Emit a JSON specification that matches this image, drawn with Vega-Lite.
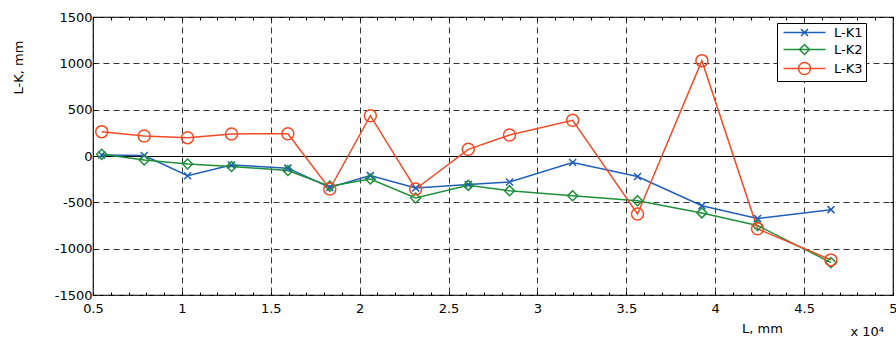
{
  "$schema": "https://vega.github.io/schema/vega-lite/v6.json",
  "width": 800,
  "height": 278,
  "autosize": "none",
  "padding": {"left": 93, "top": 17, "right": 3, "bottom": 44},
  "background": "white",
  "data": {
    "values": [
      {"L": 5490, "LK": 10, "series": "L-K1"},
      {"L": 7880, "LK": 5, "series": "L-K1"},
      {"L": 10320, "LK": -213, "series": "L-K1"},
      {"L": 12790, "LK": -97, "series": "L-K1"},
      {"L": 15960, "LK": -131, "series": "L-K1"},
      {"L": 18320, "LK": -340, "series": "L-K1"},
      {"L": 20600, "LK": -212, "series": "L-K1"},
      {"L": 23150, "LK": -345, "series": "L-K1"},
      {"L": 26110, "LK": -307, "series": "L-K1"},
      {"L": 28430, "LK": -281, "series": "L-K1"},
      {"L": 31980, "LK": -70, "series": "L-K1"},
      {"L": 35630, "LK": -221, "series": "L-K1"},
      {"L": 39250, "LK": -536, "series": "L-K1"},
      {"L": 42380, "LK": -675, "series": "L-K1"},
      {"L": 46510, "LK": -579, "series": "L-K1"},
      {"L": 5490, "LK": 18, "series": "L-K2"},
      {"L": 7880, "LK": -43, "series": "L-K2"},
      {"L": 10320, "LK": -87, "series": "L-K2"},
      {"L": 12790, "LK": -113, "series": "L-K2"},
      {"L": 15960, "LK": -157, "series": "L-K2"},
      {"L": 18320, "LK": -325, "series": "L-K2"},
      {"L": 20600, "LK": -248, "series": "L-K2"},
      {"L": 23150, "LK": -453, "series": "L-K2"},
      {"L": 26110, "LK": -317, "series": "L-K2"},
      {"L": 28430, "LK": -374, "series": "L-K2"},
      {"L": 31980, "LK": -428, "series": "L-K2"},
      {"L": 35630, "LK": -482, "series": "L-K2"},
      {"L": 39250, "LK": -614, "series": "L-K2"},
      {"L": 42380, "LK": -750, "series": "L-K2"},
      {"L": 46510, "LK": -1150, "series": "L-K2"},
      {"L": 5490, "LK": 263, "series": "L-K3"},
      {"L": 7880, "LK": 216, "series": "L-K3"},
      {"L": 10320, "LK": 198, "series": "L-K3"},
      {"L": 12790, "LK": 238, "series": "L-K3"},
      {"L": 15960, "LK": 240, "series": "L-K3"},
      {"L": 18320, "LK": -356, "series": "L-K3"},
      {"L": 20600, "LK": 435, "series": "L-K3"},
      {"L": 23150, "LK": -356, "series": "L-K3"},
      {"L": 26110, "LK": 72, "series": "L-K3"},
      {"L": 28430, "LK": 227, "series": "L-K3"},
      {"L": 31980, "LK": 385, "series": "L-K3"},
      {"L": 35630, "LK": -625, "series": "L-K3"},
      {"L": 39250, "LK": 1029, "series": "L-K3"},
      {"L": 42380, "LK": -786, "series": "L-K3"},
      {"L": 46510, "LK": -1121, "series": "L-K3"}
    ]
  },
  "layer": [
    {
      "mark": {"type": "rule", "color": "black", "strokeWidth": 1, "yOffset": 0.5},
      "encoding": {
        "y": {"datum": 0, "type": "quantitative", "scale": {"domain": [-1500, 1500], "nice": false, "zero": false}, "axis": null}
      }
    },
    {
      "mark": {"type": "line", "strokeWidth": 1.5},
      "encoding": {
        "x": {
          "field": "L", "type": "quantitative",
          "scale": {"domain": [5000, 50000], "nice": false, "zero": false},
          "axis": {
            "orient": "bottom",
            "values": [5000,6000,7000,8000,9000,10000,11000,12000,13000,14000,15000,16000,17000,18000,19000,20000,21000,22000,23000,24000,25000,26000,27000,28000,29000,30000,31000,32000,33000,34000,35000,36000,37000,38000,39000,40000,41000,42000,43000,44000,45000,46000,47000,48000,49000,50000],
            "labelExpr": "datum.value % 5000 === 0 ? '' + (datum.value / 10000) : ''",
            "labelOverlap": false,
            "labelFlush": false,
            "labelPadding": 10,
            "tickSize": -3,
            "grid": true,
            "gridDash": [6, 4],
            "gridColor": "#333333",
            "gridOpacity": {"condition": {"test": "datum.value % 5000 === 0", "value": 1}, "value": 0},
            "title": "L, mm",
            "titleX": 669,
            "titleY": 33,
            "titleAlign": "center",
            "titleBaseline": "middle"
          }
        },
        "y": {
          "field": "LK", "type": "quantitative",
          "scale": {"domain": [-1500, 1500], "nice": false, "zero": false},
          "axis": {
            "orient": "left",
            "values": [-1500, -1000, -500, 0, 500, 1000, 1500],
            "labelExpr": "'' + datum.value",
            "labelOverlap": false,
            "labelFlush": false,
            "labelPadding": 4,
            "tickSize": -3,
            "grid": true,
            "gridDash": [6, 4],
            "gridColor": "#333333",
            "title": "L-K, mm",
            "titleX": -75,
            "titleY": 50,
            "titleAngle": 270,
            "titleAlign": "center",
            "titleBaseline": "middle"
          }
        },
        "color": {
          "field": "series", "type": "nominal",
          "scale": {"domain": ["L-K1", "L-K2", "L-K3"], "range": ["#1f5fb8", "#1f8f3c", "#f24a25"]},
          "legend": {
            "orient": "none",
            "legendX": 684,
            "legendY": 6,
            "title": null,
            "padding": 3,
            "strokeColor": "black",
            "fillColor": "white",
            "symbolSize": 4,
            "symbolOffset": 18,
            "labelOffset": 23,
            "rowPadding": 1,
            "symbolStrokeWidth": 1.5,
            "symbolFillColor": "transparent",
            "symbolType": {"expr": "datum.value === 'L-K1' ? 'M-21,0L21,0M-3.5,-3.5L3.5,3.5M-3.5,3.5L3.5,-3.5' : datum.value === 'L-K2' ? 'M-21,0L21,0M0,-5L5,0L0,5L-5,0Z' : 'M-21,0L21,0M-6,0A6,6 0 1,0 6,0A6,6 0 1,0 -6,0Z'"},
            "labelFont": "DejaVu Sans",
            "labelFontSize": 13,
            "labelColor": "black"
          }
        }
      }
    },
    {
      "transform": [{"filter": "datum.series === 'L-K1'"}],
      "mark": {"type": "point", "filled": false, "size": 4, "strokeWidth": 1.5, "opacity": 1, "color": "#1f5fb8", "shape": "M-3.5,-3.5L3.5,3.5M-3.5,3.5L3.5,-3.5"},
      "encoding": {
        "x": {
          "field": "L", "type": "quantitative",
          "scale": {"domain": [5000, 50000], "nice": false, "zero": false},
          "axis": {
            "orient": "top",
            "values": [5000,6000,7000,8000,9000,10000,11000,12000,13000,14000,15000,16000,17000,18000,19000,20000,21000,22000,23000,24000,25000,26000,27000,28000,29000,30000,31000,32000,33000,34000,35000,36000,37000,38000,39000,40000,41000,42000,43000,44000,45000,46000,47000,48000,49000,50000],
            "labels": false,
            "tickSize": -3,
            "grid": false,
            "title": "x 10⁴",
            "titleX": 757,
            "titleY": 314,
            "titleAlign": "left",
            "titleBaseline": "middle"
          }
        },
        "y": {
          "field": "LK", "type": "quantitative",
          "scale": {"domain": [-1500, 1500], "nice": false, "zero": false},
          "axis": {
            "orient": "right",
            "values": [-1500, -1000, -500, 0, 500, 1000, 1500],
            "labels": false,
            "tickSize": -3,
            "grid": false,
            "title": null
          }
        }
      }
    },
    {
      "transform": [{"filter": "datum.series === 'L-K2'"}],
      "mark": {"type": "point", "filled": false, "size": 4, "strokeWidth": 1.5, "opacity": 1, "color": "#1f8f3c", "shape": "M0,-5L5,0L0,5L-5,0Z"},
      "encoding": {
        "x": {"field": "L", "type": "quantitative", "scale": {"domain": [5000, 50000], "nice": false, "zero": false}, "axis": null},
        "y": {"field": "LK", "type": "quantitative", "scale": {"domain": [-1500, 1500], "nice": false, "zero": false}, "axis": null}
      }
    },
    {
      "transform": [{"filter": "datum.series === 'L-K3'"}],
      "mark": {"type": "point", "filled": false, "size": 4, "strokeWidth": 1.5, "opacity": 1, "color": "#f24a25", "shape": "M-6,0A6,6 0 1,0 6,0A6,6 0 1,0 -6,0Z"},
      "encoding": {
        "x": {"field": "L", "type": "quantitative", "scale": {"domain": [5000, 50000], "nice": false, "zero": false}, "axis": null},
        "y": {"field": "LK", "type": "quantitative", "scale": {"domain": [-1500, 1500], "nice": false, "zero": false}, "axis": null}
      }
    }
  ],
  "resolve": {"axis": {"x": "independent", "y": "independent"}},
  "config": {
    "font": "DejaVu Sans",
    "view": {"stroke": "black", "strokeWidth": 1.2},
    "axis": {
      "domain": false,
      "labelFont": "DejaVu Sans",
      "labelFontSize": 13,
      "labelColor": "black",
      "tickColor": "black",
      "tickWidth": 1,
      "titleFont": "DejaVu Sans",
      "titleFontSize": 13,
      "titleFontWeight": "normal",
      "titleColor": "black"
    }
  }
}
